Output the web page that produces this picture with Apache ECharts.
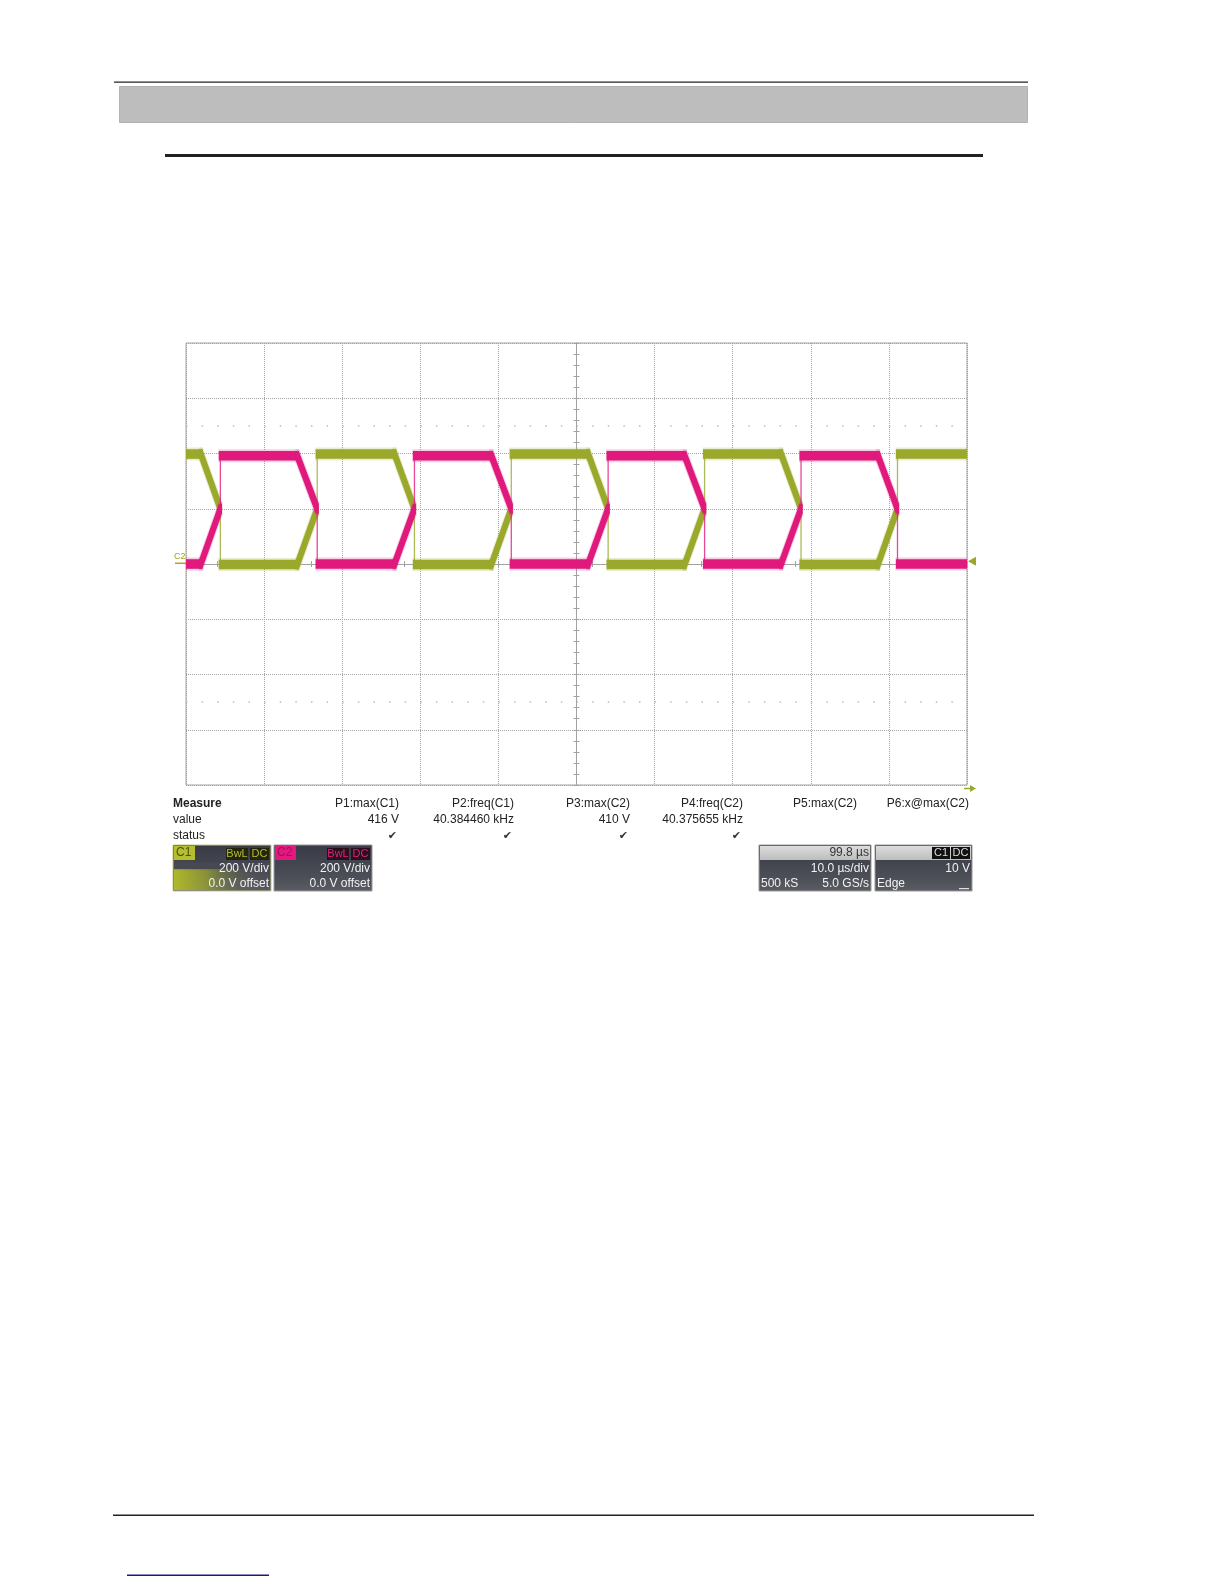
<!DOCTYPE html>
<html><head><meta charset="utf-8">
<script src="https://cdn.jsdelivr.net/npm/echarts@6/dist/echarts.min.js"></script>
<style>html,body{margin:0;padding:0;background:#fff}#chart{width:1224px;height:1584px}</style>
</head><body><div id="chart"></div>
<script>
// ---- data (time in µs, voltage in V) ----
const keyTime = [-50, -48.1, -45.6, -45.6, -35.75, -33.2, -33.2, -23.3, -20.75, -20.75, -10.9, -8.35, -8.35,
                 1.5, 4.05, 4.05, 13.85, 16.4, 16.4, 26.2, 28.75, 28.75, 38.6, 41.1, 41.1, 50];
const c1Volt = [398, 398, 200, -2, -2, 200, 398, 398, 200, -2, -2, 200, 398,
                398, 200, -2, -2, 200, 398, 398, 200, -2, -2, 200, 398, 398];
const c2Volt = [0, 0, 200, 392, 392, 200, 0, 0, 200, 392, 392, 200, 0,
                0, 200, 392, 392, 200, 0, 0, 200, 392, 392, 200, 0, 0];
const dotRowLevels = [500, -500];
const triggerLevel = 10;

const measureNames = ['P1:max(C1)', 'P2:freq(C1)', 'P3:max(C2)', 'P4:freq(C2)', 'P5:max(C2)', 'P6:x@max(C2)'];
const measureValues = ['416 V', '40.384460 kHz', '410 V', '40.375655 kHz', '', ''];
const measureStatus = ['\u2714', '\u2714', '\u2714', '\u2714', '', ''];
const rowLabels = ['Measure', 'value', 'status'];
const c1Info = ['C1', 'BwL', 'DC', '200 V/div', '0.0 V offset'];
const c2Info = ['C2', 'BwL', 'DC', '200 V/div', '0.0 V offset'];
const timebaseInfo = ['99.8 \u00b5s', '10.0 \u00b5s/div', '500 kS', '5.0 GS/s'];
const triggerInfo = ['C1', 'DC', '10 V', 'Edge'];

// ---- helpers ----
const FONT = "'Liberation Sans', Arial, sans-serif";
const C1COL = '#9aa82b', C2COL = '#e0197d';
function segs(t, v) { const out = []; for (let k = 0; k < t.length - 1; k++) out.push([t[k], v[k], t[k + 1], v[k + 1]]); return out; }
function traceRender(color) {
  return function (params, api) {
    const p = api.coord([api.value(0), api.value(1)]);
    const q = api.coord([api.value(2), api.value(3)]);
    if (Math.abs(q[0] - p[0]) < 0.5) {
      return { type: 'line', shape: { x1: p[0], y1: p[1], x2: q[0], y2: q[1] }, style: { stroke: color, lineWidth: 1.3, opacity: 0.8 } };
    }
    const mk = (hx, hy) => q[1] >= p[1]
      ? [[p[0] - hx, p[1] - hy], [p[0] + hx, p[1] - hy], [q[0] + hx, q[1] - hy], [q[0] + hx, q[1] + hy], [q[0] - hx, q[1] + hy], [p[0] - hx, p[1] + hy]]
      : [[p[0] - hx, p[1] - hy], [q[0] - hx, q[1] - hy], [q[0] + hx, q[1] - hy], [q[0] + hx, q[1] + hy], [p[0] + hx, p[1] + hy], [p[0] - hx, p[1] + hy]];
    return { type: 'group', children: [
      { type: 'polygon', shape: { points: mk(2.0, 6.5) }, style: { fill: color, opacity: 0.22 } },
      { type: 'polygon', shape: { points: mk(1.6, 4.8) }, style: { fill: color } }
    ] };
  };
}
function axisCommon(extra) {
  return Object.assign({
    type: 'value',
    axisLine: { show: true, onZero: true, onZeroAxisIndex: 0, lineStyle: { color: '#a2a2a2', width: 1 } },
    axisTick: { show: true, inside: true, length: 3, lineStyle: { color: '#a2a2a2' } },
    minorTick: { show: true, splitNumber: 5, length: 3, lineStyle: { color: '#a2a2a2' } },
    axisLabel: { show: false },
    splitLine: { show: false }
  }, extra);
}
const gridSplit = { show: true, lineStyle: { color: '#a4a4a4', type: [1, 1], width: 1 } };

function txt(text, x, y, opts) {
  return { type: 'text', silent: true, style: Object.assign({ text: text, x: x, y: y, font: '12px ' + FONT, fill: '#222', align: 'left', verticalAlign: 'middle' }, opts || {}) };
}
function rect(x, y, w, h, style) { return { type: 'rect', silent: true, shape: { x: x, y: y, width: w, height: h }, style: style }; }
function vgrad(stops) { return { type: 'linear', x: 0, y: 0, x2: 0, y2: 1, colorStops: stops.map((c, i) => ({ offset: i / (stops.length - 1), color: c })) }; }
function hgrad(stops) { return { type: 'linear', x: 0, y: 0, x2: 1, y2: 0, colorStops: stops.map((c, i) => ({ offset: i / (stops.length - 1), color: c })) }; }
const boxBg = vgrad(['#383a45', '#41434d', '#4c4e57', '#5a5c63']);

const graphics = [];
// page decoration
graphics.push(rect(114, 81.5, 914, 1.3, { fill: '#222' }));
graphics.push(rect(119.5, 86.5, 908, 36, { fill: '#bdbdbd', stroke: '#b2b2b2', lineWidth: 1 }));
graphics.push(rect(165, 154, 818, 3, { fill: '#222' }));
graphics.push(rect(113, 1514.5, 921, 1.5, { fill: '#222' }));
graphics.push(rect(127, 1574.5, 142, 1.5, { fill: '#1a1a80' }));
// channel marker at left
graphics.push(txt('C2', 174, 557, { font: '9px ' + FONT, fill: '#a8a020' }));
graphics.push(rect(175, 562.5, 11, 1.5, { fill: '#a8a82a' }));
// trigger arrow bottom right
graphics.push({ type: 'polyline', silent: true, shape: { points: [[964, 788.5], [972, 788.5]] }, style: { stroke: C1COL, lineWidth: 1.5 } });
graphics.push({ type: 'polygon', silent: true, shape: { points: [[970, 785], [976, 788.5], [970, 792]] }, style: { fill: C1COL } });

// measurement table
const colRight = [399, 514, 630, 743, 857, 969];
const rowY = [804, 820, 836];
graphics.push(txt(rowLabels[0], 173, rowY[0], { font: 'bold 12px ' + FONT }));
graphics.push(txt(rowLabels[1], 173, rowY[1]));
graphics.push(txt(rowLabels[2], 173, rowY[2]));
measureNames.forEach((n, i) => {
  graphics.push(txt(n, colRight[i], rowY[0], { align: 'right' }));
  if (measureValues[i]) graphics.push(txt(measureValues[i], colRight[i], rowY[1], { align: 'right' }));
  if (measureStatus[i]) graphics.push(txt(measureStatus[i], colRight[i] - 2, rowY[2], { align: 'right', font: '11px "DejaVu Sans"', fill: '#333' }));
});

// channel boxes
function channelBox(x, info, tagCol, tagText, smallBg, smallText, border, glow) {
  const w = 98, y = 845, h = 46;
  graphics.push(rect(x, y, w, h, { fill: boxBg, stroke: border, lineWidth: 1 }));
  if (glow) {
    graphics.push(rect(x + 1, y + 24, w - 2, h - 25, { fill: hgrad(['rgba(180,190,40,0.95)', 'rgba(165,175,45,0.7)', 'rgba(120,128,70,0.25)', 'rgba(90,92,98,0)']) }));
    graphics.push(rect(x + 1, y + 18, w - 2, 8, { fill: vgrad(['rgba(72,74,82,1)', 'rgba(72,74,82,0)']) }));
  }
  graphics.push(rect(x + 1, y + 1, 21, 14, { fill: tagCol }));
  graphics.push(txt(info[0], x + 3, y + 8, { fill: tagText }));
  graphics.push(rect(x + 53, y + 3, 22, 12, { fill: smallBg }));
  graphics.push(txt(info[1], x + 64, y + 9, { fill: smallText, align: 'center', font: '11px ' + FONT }));
  graphics.push(rect(x + 77, y + 3, 19, 12, { fill: smallBg }));
  graphics.push(txt(info[2], x + 86.5, y + 9, { fill: smallText, align: 'center', font: '11px ' + FONT }));
  graphics.push(txt(info[3], x + w - 2, y + 24, { fill: '#f2f2f2', align: 'right' }));
  graphics.push(txt(info[4], x + w - 2, y + 39, { fill: '#f2f2f2', align: 'right' }));
}
channelBox(173, c1Info, '#b5bf2e', '#4a5010', '#23250f', '#b3bd32', '#c3c68a', true);
channelBox(274, c2Info, '#e4187f', '#a0105a', '#2c0f1d', '#e0207f', '#9a9a9a', false);

// timebase box
graphics.push(rect(759, 845, 112, 46, { fill: boxBg, stroke: '#9a9a9a', lineWidth: 1 }));
graphics.push(rect(760, 846, 110, 14, { fill: vgrad(['#dcdcdc', '#bdbdbd']) }));
graphics.push(txt(timebaseInfo[0], 869, 853, { fill: '#333', align: 'right' }));
graphics.push(txt(timebaseInfo[1], 869, 869, { fill: '#f2f2f2', align: 'right' }));
graphics.push(txt(timebaseInfo[2], 761, 884, { fill: '#f2f2f2' }));
graphics.push(txt(timebaseInfo[3], 869, 884, { fill: '#f2f2f2', align: 'right' }));
// trigger box
graphics.push(rect(875, 845, 97, 46, { fill: boxBg, stroke: '#9a9a9a', lineWidth: 1 }));
graphics.push(rect(876, 846, 95, 14, { fill: vgrad(['#dcdcdc', '#bdbdbd']) }));
graphics.push(rect(932, 847, 18, 12, { fill: '#111' }));
graphics.push(txt(triggerInfo[0], 941, 853, { fill: '#ddd', align: 'center', font: '11px ' + FONT }));
graphics.push(rect(951, 847, 19, 12, { fill: '#111' }));
graphics.push(txt(triggerInfo[1], 960.5, 853, { fill: '#ddd', align: 'center', font: '11px ' + FONT }));
graphics.push(txt(triggerInfo[2], 970, 869, { fill: '#f2f2f2', align: 'right' }));
graphics.push(txt(triggerInfo[3], 877, 884, { fill: '#f2f2f2' }));
graphics.push(rect(959, 888, 10, 1.2, { fill: '#e0e0e0' }));

const chart = echarts.init(document.getElementById('chart'), null, { renderer: 'canvas' });
chart.setOption({
  animation: false,
  backgroundColor: '#ffffff',
  textStyle: { fontFamily: FONT },
  grid: { left: 186, top: 343, width: 781, height: 442, show: true, borderColor: '#a2a2a2', borderWidth: 1, backgroundColor: 'transparent' },
  xAxis: [
    axisCommon({ min: -50, max: 50, interval: 10, position: 'bottom', splitLine: gridSplit }),
    axisCommon({ min: -50, max: 50, interval: 10, position: 'top' })
  ],
  yAxis: [
    axisCommon({ min: -800, max: 800, interval: 200, position: 'left', splitLine: gridSplit }),
    axisCommon({ min: -800, max: 800, interval: 200, position: 'right' })
  ],
  series: [
    { type: 'line', data: [], silent: true, symbol: 'none',
      markLine: { silent: true, symbol: 'none', label: { show: false }, animation: false,
        lineStyle: { color: '#bcbcbc', type: [1.5, 14.12], width: 1.5 },
        data: dotRowLevels.map(v => ({ yAxis: v })) },
      markPoint: { silent: true, symbol: 'triangle', symbolSize: [9, 8], symbolRotate: 90, symbolOffset: [5, 0],
        itemStyle: { color: C1COL }, label: { show: false },
        data: [{ coord: [50, triggerLevel] }] } },
    { type: 'custom', name: 'C1', renderItem: traceRender(C1COL), data: segs(keyTime, c1Volt),
      encode: { x: [0, 2], y: [1, 3] }, clip: true, silent: true, z: 3 },
    { type: 'custom', name: 'C2', renderItem: traceRender(C2COL), data: segs(keyTime, c2Volt),
      encode: { x: [0, 2], y: [1, 3] }, clip: true, silent: true, z: 4 }
  ],
  graphic: graphics
});
</script></body></html>
